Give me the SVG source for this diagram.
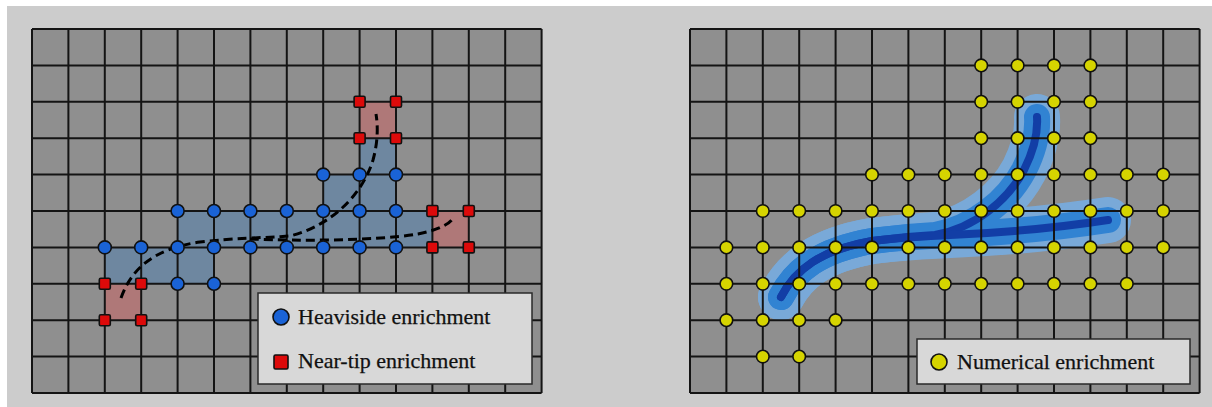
<svg xmlns="http://www.w3.org/2000/svg" xmlns:xlink="http://www.w3.org/1999/xlink" width="1212" height="407" viewBox="0 0 1212 407">
<style>
.cell{fill:#8f8f8f}
.grid{fill:none;stroke:#141414;stroke-width:2}
.hv{fill:#1a63d6;stroke:#111;stroke-width:1.6}
.nt{fill:#dd0a0a;stroke:#111;stroke-width:1.6}
.num{fill:#d6d400;stroke:#111;stroke-width:1.6}
.crack{fill:none;stroke:#000;stroke-width:3;stroke-dasharray:9 5}
.leg{fill:#d8d8d8;stroke:#2a2a2a;stroke-width:1.5}
.lbl{font-family:"Liberation Serif","Times New Roman",serif;font-size:22px;fill:#111;stroke:#111;stroke-width:0.25}
.outer{fill:none;stroke:#78acdf;stroke-width:46;stroke-linecap:round;stroke-linejoin:round}
.mid{fill:none;stroke:#2a82d8;stroke-width:26;stroke-linecap:round;stroke-linejoin:round}
.inner{fill:none;stroke:#0838a8;stroke-width:8;stroke-linecap:round;stroke-linejoin:round}
</style>
<defs>
<rect id="sq" x="-5.5" y="-5.5" width="11" height="11" rx="1.5" class="nt"/>
<circle id="hd" r="6.5" class="hv"/>
<circle id="yd" r="6.3" class="num"/>
</defs>
<rect x="0" y="0" width="1212" height="407" fill="#ffffff"/>
<rect x="7" y="6" width="1205" height="401" fill="#cccccc"/>

<g id="left-panel">
<rect class="cell" x="32" y="29" width="509.6" height="364"/>
<path fill="#6e87a0" d="M359.6,138.2 H396 V211 H432.4 V247.4 H214 V283.8 H104.8 V247.4 H177.6 V211 H323.2 V174.6 H359.6 Z"/>
<g fill="#af7878">
<rect x="359.6" y="101.8" width="36.4" height="36.4"/>
<rect x="432.4" y="211" width="36.4" height="36.4"/>
<rect x="104.8" y="283.8" width="36.4" height="36.4"/>
</g>
<path class="grid" d="M32,29V393M68.4,29V393M104.8,29V393M141.2,29V393M177.6,29V393M214,29V393M250.4,29V393M286.8,29V393M323.2,29V393M359.6,29V393M396,29V393M432.4,29V393M468.8,29V393M505.2,29V393M541.6,29V393M32,29H541.6M32,65.4H541.6M32,101.8H541.6M32,138.2H541.6M32,174.6H541.6M32,211H541.6M32,247.4H541.6M32,283.8H541.6M32,320.2H541.6M32,356.6H541.6M32,393H541.6"/>
</g>

<g id="left-cracks">
<path class="crack" d="M121,298 C131,270 152,249 200,242 C235,238 262,238 290,236 C330,226 362,196 373,160 C378,142 378,126 376,114"/>
<path class="crack" d="M250,239 C300,241 375,241 418,234 C438,230 450,224 453,218"/>
</g>

<g id="heaviside-nodes">
<use xlink:href="#hd" x="323.2" y="174.6"/><use xlink:href="#hd" x="359.6" y="174.6"/><use xlink:href="#hd" x="396" y="174.6"/>
<use xlink:href="#hd" x="177.6" y="211"/><use xlink:href="#hd" x="214" y="211"/><use xlink:href="#hd" x="250.4" y="211"/><use xlink:href="#hd" x="286.8" y="211"/><use xlink:href="#hd" x="323.2" y="211"/><use xlink:href="#hd" x="359.6" y="211"/><use xlink:href="#hd" x="396" y="211"/>
<use xlink:href="#hd" x="104.8" y="247.4"/><use xlink:href="#hd" x="141.2" y="247.4"/><use xlink:href="#hd" x="177.6" y="247.4"/><use xlink:href="#hd" x="214" y="247.4"/><use xlink:href="#hd" x="250.4" y="247.4"/><use xlink:href="#hd" x="286.8" y="247.4"/><use xlink:href="#hd" x="323.2" y="247.4"/><use xlink:href="#hd" x="359.6" y="247.4"/><use xlink:href="#hd" x="396" y="247.4"/>
<use xlink:href="#hd" x="177.6" y="283.8"/><use xlink:href="#hd" x="214" y="283.8"/>
</g>

<g id="near-tip-nodes">
<use xlink:href="#sq" x="359.6" y="101.8"/><use xlink:href="#sq" x="396" y="101.8"/><use xlink:href="#sq" x="359.6" y="138.2"/><use xlink:href="#sq" x="396" y="138.2"/>
<use xlink:href="#sq" x="432.4" y="211"/><use xlink:href="#sq" x="468.8" y="211"/><use xlink:href="#sq" x="432.4" y="247.4"/><use xlink:href="#sq" x="468.8" y="247.4"/>
<use xlink:href="#sq" x="104.8" y="283.8"/><use xlink:href="#sq" x="141.2" y="283.8"/><use xlink:href="#sq" x="104.8" y="320.2"/><use xlink:href="#sq" x="141.2" y="320.2"/>
</g>

<g id="left-legend">
<rect class="leg" x="258" y="293" width="274" height="91"/>
<circle cx="281" cy="317" r="8" class="hv"/>
<text class="lbl" x="298" y="324">Heaviside enrichment</text>
<rect x="274" y="355" width="14" height="14" rx="1.5" class="nt"/>
<text class="lbl" x="298" y="368">Near-tip enrichment</text>
</g>

<g id="right-panel">
<rect class="cell" x="690" y="29" width="509.6" height="364"/>
<g id="right-crack" opacity="0.92">
<path class="outer" d="M781,297 C795,270 820,250 872,241 C900,237 915,236 935,235 C975,228 1008,200 1024,170 C1034,150 1038,132 1037,117"/>
<path class="outer" d="M781,297 C795,270 820,250 872,241 C900,237 930,236 950,235 C995,233 1050,229 1108,220"/>
<path class="mid" d="M781,297 C795,270 820,250 872,241 C900,237 915,236 935,235 C975,228 1008,200 1024,170 C1034,150 1038,132 1037,117"/>
<path class="mid" d="M781,297 C795,270 820,250 872,241 C900,237 930,236 950,235 C995,233 1050,229 1108,220"/>
<path class="inner" d="M781,297 C795,270 820,250 872,241 C900,237 915,236 935,235 C975,228 1008,200 1024,170 C1034,150 1038,132 1037,117"/>
<path class="inner" d="M781,297 C795,270 820,250 872,241 C900,237 930,236 950,235 C995,233 1050,229 1108,220"/>
</g>
<path class="grid" d="M690,29V393M726.4,29V393M762.8,29V393M799.2,29V393M835.6,29V393M872,29V393M908.4,29V393M944.8,29V393M981.2,29V393M1017.6,29V393M1054,29V393M1090.4,29V393M1126.8,29V393M1163.2,29V393M1199.6,29V393M690,29H1199.6M690,65.4H1199.6M690,101.8H1199.6M690,138.2H1199.6M690,174.6H1199.6M690,211H1199.6M690,247.4H1199.6M690,283.8H1199.6M690,320.2H1199.6M690,356.6H1199.6M690,393H1199.6"/>
</g>

<g id="numerical-nodes">
<use xlink:href="#yd" x="981.2" y="65.4"/><use xlink:href="#yd" x="1017.6" y="65.4"/><use xlink:href="#yd" x="1054" y="65.4"/><use xlink:href="#yd" x="1090.4" y="65.4"/>
<use xlink:href="#yd" x="981.2" y="101.8"/><use xlink:href="#yd" x="1017.6" y="101.8"/><use xlink:href="#yd" x="1054" y="101.8"/><use xlink:href="#yd" x="1090.4" y="101.8"/>
<use xlink:href="#yd" x="981.2" y="138.2"/><use xlink:href="#yd" x="1017.6" y="138.2"/><use xlink:href="#yd" x="1054" y="138.2"/><use xlink:href="#yd" x="1090.4" y="138.2"/>
<use xlink:href="#yd" x="872" y="174.6"/><use xlink:href="#yd" x="908.4" y="174.6"/><use xlink:href="#yd" x="944.8" y="174.6"/><use xlink:href="#yd" x="981.2" y="174.6"/><use xlink:href="#yd" x="1017.6" y="174.6"/><use xlink:href="#yd" x="1054" y="174.6"/><use xlink:href="#yd" x="1090.4" y="174.6"/><use xlink:href="#yd" x="1126.8" y="174.6"/><use xlink:href="#yd" x="1163.2" y="174.6"/>
<use xlink:href="#yd" x="762.8" y="211"/><use xlink:href="#yd" x="799.2" y="211"/><use xlink:href="#yd" x="835.6" y="211"/><use xlink:href="#yd" x="872" y="211"/><use xlink:href="#yd" x="908.4" y="211"/><use xlink:href="#yd" x="944.8" y="211"/><use xlink:href="#yd" x="981.2" y="211"/><use xlink:href="#yd" x="1017.6" y="211"/><use xlink:href="#yd" x="1054" y="211"/><use xlink:href="#yd" x="1090.4" y="211"/><use xlink:href="#yd" x="1126.8" y="211"/><use xlink:href="#yd" x="1163.2" y="211"/>
<use xlink:href="#yd" x="726.4" y="247.4"/><use xlink:href="#yd" x="762.8" y="247.4"/><use xlink:href="#yd" x="799.2" y="247.4"/><use xlink:href="#yd" x="835.6" y="247.4"/><use xlink:href="#yd" x="872" y="247.4"/><use xlink:href="#yd" x="908.4" y="247.4"/><use xlink:href="#yd" x="944.8" y="247.4"/><use xlink:href="#yd" x="981.2" y="247.4"/><use xlink:href="#yd" x="1017.6" y="247.4"/><use xlink:href="#yd" x="1054" y="247.4"/><use xlink:href="#yd" x="1090.4" y="247.4"/><use xlink:href="#yd" x="1126.8" y="247.4"/><use xlink:href="#yd" x="1163.2" y="247.4"/>
<use xlink:href="#yd" x="726.4" y="283.8"/><use xlink:href="#yd" x="762.8" y="283.8"/><use xlink:href="#yd" x="799.2" y="283.8"/><use xlink:href="#yd" x="835.6" y="283.8"/><use xlink:href="#yd" x="872" y="283.8"/><use xlink:href="#yd" x="908.4" y="283.8"/><use xlink:href="#yd" x="944.8" y="283.8"/><use xlink:href="#yd" x="981.2" y="283.8"/><use xlink:href="#yd" x="1017.6" y="283.8"/><use xlink:href="#yd" x="1054" y="283.8"/><use xlink:href="#yd" x="1090.4" y="283.8"/><use xlink:href="#yd" x="1126.8" y="283.8"/>
<use xlink:href="#yd" x="726.4" y="320.2"/><use xlink:href="#yd" x="762.8" y="320.2"/><use xlink:href="#yd" x="799.2" y="320.2"/><use xlink:href="#yd" x="835.6" y="320.2"/>
<use xlink:href="#yd" x="762.8" y="356.6"/><use xlink:href="#yd" x="799.2" y="356.6"/>
</g>

<g id="right-legend">
<rect class="leg" x="917" y="339" width="273" height="45"/>
<circle cx="939" cy="362" r="8" class="num"/>
<text class="lbl" x="957" y="369">Numerical enrichment</text>
</g>
</svg>
